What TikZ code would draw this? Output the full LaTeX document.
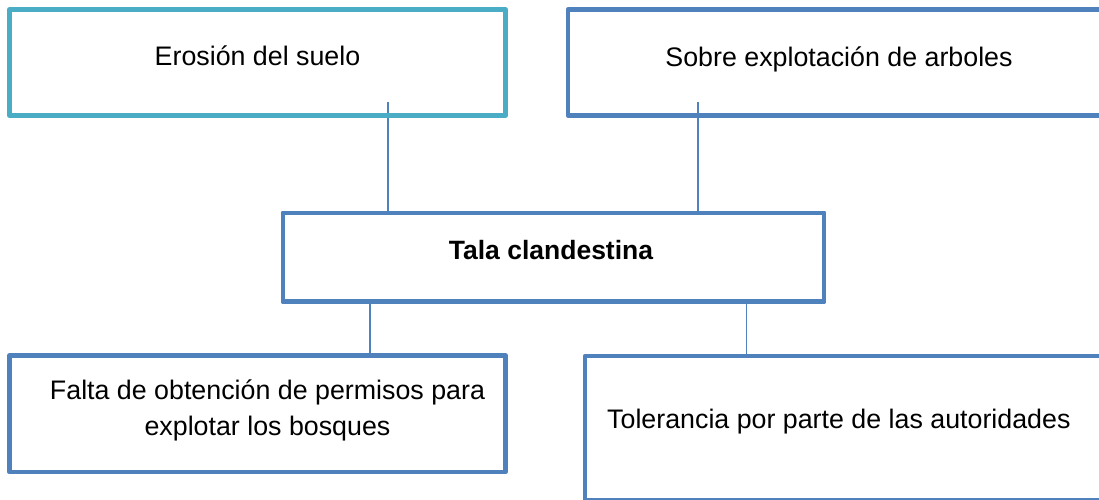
\documentclass[tikz,border=0pt]{standalone}
\usepackage{fontspec}
\setmainfont{Liberation Sans}
\definecolor{tealbox}{HTML}{4BACC6}
\definecolor{bluebox}{HTML}{4F81BD}
\begin{document}
\begin{tikzpicture}[x=1pt,y=-1pt,
  boxA/.style={draw=tealbox,line width=4.5pt,line join=round,rectangle,inner sep=0pt,outer sep=0pt},
  boxB/.style={draw=bluebox,line width=4.5pt,line join=round,rectangle,inner sep=0pt,outer sep=0pt},
  conn/.style={draw=bluebox,line width=1.5pt},
  lbl/.style={inner sep=0pt,font=\fontsize{26.8}{36}\selectfont,text=black}]
\useasboundingbox (0,0) rectangle (1099,499);
\clip (0,0) rectangle (1099,499);
% connectors (drawn first, boxes on top)
\coordinate (ca) at (388,102);
\coordinate (cb) at (698,102);
\node[boxB,minimum width=541pt,minimum height=88.5pt] (tala) at (553.5,257.25) {};
\draw[conn] (ca) -- (ca |- tala.north);
\draw[conn] (cb) -- (cb |- tala.north);
\node[boxA,minimum width=496pt,minimum height=106pt] (ero) at (257.5,62.5) {};
\node[boxB,minimum width=556pt,minimum height=106pt] (sob) at (846,62.5) {};
\node[boxB,minimum width=496pt,minimum height=116.5pt] (fal) at (257.5,413.75) {};
\node[boxB,minimum width=525pt,minimum height=144pt] (tol) at (847.5,428) {};
\coordinate (cc) at (370,301.5);
\coordinate (cd) at (746.5,301.5);
\draw[conn] (cc) -- (cc |- fal.north);
\draw[conn] (cd) -- (cd |- tol.north);
% redraw the Tala box on top of the connectors
\node[boxB,minimum width=541pt,minimum height=88.5pt] at (553.5,257.25) {};
% texts
\node[lbl,anchor=base] (tero) at (257.5,65) {Erosión del suelo};
\node[lbl,anchor=base] (tsob) at (839,66) {Sobre explotación de arboles};
\node[lbl,anchor=base,font=\fontsize{26.5}{36}\selectfont\bfseries] (ttal) at (551,259) {Tala clandestina};
\node[lbl,align=center] (tfal) at (267.5,410) {Falta de obtención de permisos para\\explotar los bosques};
\node[lbl,anchor=base west] (ttol) at (607,428) {Tolerancia por parte de las autoridades};
\end{tikzpicture}
\end{document}
